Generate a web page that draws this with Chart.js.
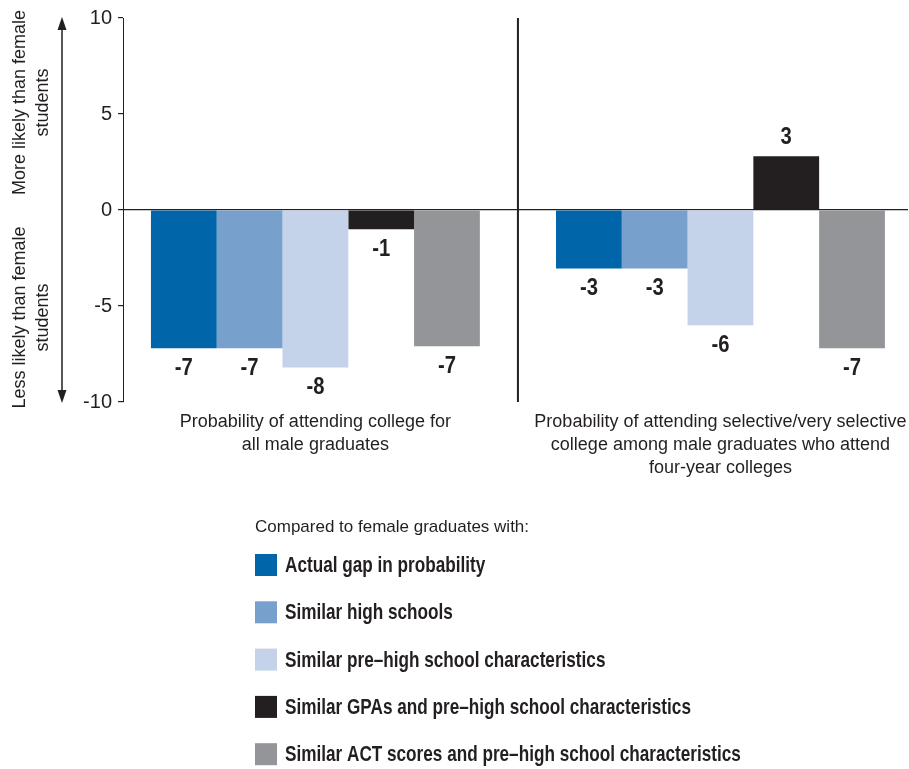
<!DOCTYPE html>
<html>
<head>
<meta charset="utf-8">
<script src="https://cdn.jsdelivr.net/npm/chart.js@4"></script>
<style>
html, body { margin: 0; padding: 0; background: #fff; }
#wrap { width: 909px; height: 769px; position: relative; }
</style>
</head>
<body>
<div id="wrap"><canvas id="chart-gap"></canvas></div>
<script>
// Categories (x axis, multi-line labels) and where they sit on the x axis
const categories = [
    ['Probability of attending college for', 'all male graduates'],
    ['Probability of attending selective/very selective', 'college among male graduates who attend', 'four-year colleges']
];
const categoryPos = [1, 2];
const dividerPos = 1.5;

// Series names and colours
const seriesNames = [
    'Actual gap in probability',
    'Similar high schools',
    'Similar pre\u2013high school characteristics',
    'Similar GPAs and pre\u2013high school characteristics',
    'Similar ACT scores and pre\u2013high school characteristics'
];
const seriesColors = ['#0065a9', '#77a0cd', '#c4d3e9', '#231f20', '#939598'];

// Values (percentage points)
const actualGap = [-7.2, -3.05];
const similarHighSchools = [-7.2, -3.05];
const similarPreHigh = [-8.2, -6.0];
const similarGpa = [-1.0, 2.8];
const similarAct = [-7.1, -7.2];
const seriesValues = [actualGap, similarHighSchools, similarPreHigh, similarGpa, similarAct];

// Y ticks
const yTicks = [10, 5, 0, -5, -10];

const legendTitle = 'Compared to female graduates with:';
const axisNotes = [['More likely than female', 'students'], ['Less likely than female', 'students']];

const sans = '"Liberation Sans", Arial, sans-serif';
const ink = '#231f20';

// draw text squeezed horizontally (the original uses a condensed face)
function squeezedText(ctx, text, x, y, scaleX) {
    ctx.save();
    ctx.translate(x, y);
    ctx.scale(scaleX, 1);
    ctx.fillText(text, 0, 0);
    ctx.restore();
}

// Value labels under/over each bar
const valueLabels = {
    id: 'valueLabels',
    afterDatasetsDraw(chart) {
        const ctx = chart.ctx;
        ctx.save();
        ctx.font = 'bold 23px ' + sans;
        ctx.fillStyle = ink;
        ctx.textAlign = 'center';
        ctx.textBaseline = 'middle';
        chart.data.datasets.forEach((ds, i) => {
            chart.getDatasetMeta(i).data.forEach((bar, j) => {
                const v = ds.data[j].y;
                const y = v < 0 ? bar.y + 20 : bar.y - 19;
                squeezedText(ctx, String(Math.round(v)), bar.x, y, 0.88);
            });
        });
        ctx.restore();
    }
};

// Vertical divider between the two groups
const groupDivider = {
    id: 'groupDivider',
    beforeDatasetsDraw(chart) {
        const ctx = chart.ctx;
        const x = chart.scales.x.getPixelForValue(dividerPos);
        const area = chart.chartArea;
        ctx.save();
        ctx.strokeStyle = ink;
        ctx.lineWidth = 2;
        ctx.beginPath();
        ctx.moveTo(x, area.top);
        ctx.lineTo(x, area.bottom);
        ctx.stroke();
        ctx.restore();
    }
};

// Double arrow and the two rotated notes left of the y axis
const axisNotesPlugin = {
    id: 'axisNotes',
    afterDraw(chart) {
        const ctx = chart.ctx;
        const y = chart.scales.y;
        const top = y.getPixelForValue(10);
        const bottom = y.getPixelForValue(-10);
        const ax = 62;
        ctx.save();
        ctx.strokeStyle = ink;
        ctx.fillStyle = ink;
        ctx.lineWidth = 1.5;
        ctx.beginPath();
        ctx.moveTo(ax, top + 8);
        ctx.lineTo(ax, bottom - 8);
        ctx.stroke();
        ctx.beginPath();
        ctx.moveTo(ax, top - 1);
        ctx.lineTo(ax - 4.5, top + 12);
        ctx.lineTo(ax + 4.5, top + 12);
        ctx.closePath();
        ctx.fill();
        ctx.beginPath();
        ctx.moveTo(ax, bottom + 1);
        ctx.lineTo(ax - 4.5, bottom - 12);
        ctx.lineTo(ax + 4.5, bottom - 12);
        ctx.closePath();
        ctx.fill();

        ctx.font = '18px ' + sans;
        ctx.textAlign = 'center';
        ctx.textBaseline = 'middle';
        const centers = [y.getPixelForValue(5.6), y.getPixelForValue(-5.6)];
        axisNotes.forEach((lines, k) => {
            lines.forEach((line, n) => {
                ctx.save();
                ctx.translate(20 + n * 23, centers[k]);
                ctx.rotate(-Math.PI / 2);
                ctx.fillText(line, 0, 0);
                ctx.restore();
            });
        });
        ctx.restore();
    }
};

// Vertical legend under the chart
const stackedLegend = {
    id: 'stackedLegend',
    afterDraw(chart) {
        const ctx = chart.ctx;
        const left = 255;
        ctx.save();
        ctx.textBaseline = 'middle';
        ctx.textAlign = 'left';
        ctx.fillStyle = ink;
        ctx.font = '17px ' + sans;
        ctx.fillText(legendTitle, left, 527);
        ctx.font = 'bold 22px ' + sans;
        chart.data.datasets.forEach((ds, i) => {
            const cy = 565 + i * 47.3;
            ctx.fillStyle = ds.backgroundColor;
            ctx.fillRect(left, cy - 11, 22, 22);
            ctx.fillStyle = ink;
            squeezedText(ctx, ds.label, left + 30, cy + 1, 0.78);
        });
        ctx.restore();
    }
};

function createChart() {
    const ctx = document.getElementById('chart-gap');
    return new Chart(ctx, {
        type: 'bar',
        data: {
            datasets: seriesNames.map((name, i) => ({
                label: name,
                data: categoryPos.map((x, j) => ({ x: x, y: seriesValues[i][j] })),
                backgroundColor: seriesColors[i],
                borderWidth: 0,
                barPercentage: 1,
                categoryPercentage: 0.812
            }))
        },
        options: {
            responsive: true,
            maintainAspectRatio: false,
            animation: false,
            layout: { padding: { top: 17, left: 0, right: 1, bottom: 0 } },
            plugins: {
                legend: { display: false },
                tooltip: { enabled: false }
            },
            scales: {
                x: {
                    type: 'linear',
                    offset: false,
                    min: 0.525,
                    max: 2.463,
                    afterFit(scale) {
                        scale.height = 367;
                        scale.paddingLeft = 0;
                        scale.paddingRight = 0;
                    },
                    afterBuildTicks(scale) { scale.ticks = categoryPos.map(v => ({ value: v })); },
                    grid: { display: false, offset: false },
                    border: { display: false },
                    ticks: {
                        color: ink,
                        font: { family: sans, size: 18, lineHeight: 1.3 },
                        padding: 0,
                        maxRotation: 0,
                        autoSkip: false,
                        callback: v => categories[categoryPos.indexOf(v)]
                    }
                },
                y: {
                    min: -10,
                    max: 10,
                    afterFit(scale) { scale.width = 123; },
                    afterBuildTicks(scale) { scale.ticks = yTicks.map(v => ({ value: v })); },
                    grid: {
                        color: c => c.tick && c.tick.value === 0 ? ink : 'rgba(0,0,0,0)',
                        tickColor: ink,
                        tickLength: 5,
                        lineWidth: 1.2
                    },
                    border: { display: true, color: ink, width: 1 },
                    ticks: {
                        color: ink,
                        font: { family: sans, size: 20 },
                        padding: 6
                    }
                }
            }
        },
        plugins: [groupDivider, valueLabels, axisNotesPlugin, stackedLegend]
    });
}

document.addEventListener('DOMContentLoaded', function () {
    createChart();
});
</script>
</body>
</html>
